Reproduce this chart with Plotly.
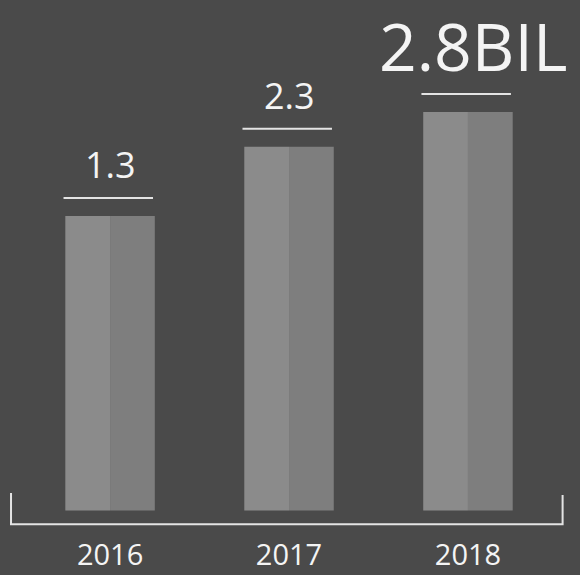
import plotly.graph_objects as go

# Data
years = ["2016", "2017", "2018"]
values = [1.3, 2.3, 2.8]
value_labels = ["1.3", "2.3", "2.8BIL"]

# Styling
BG = "#4a4a4a"
BAR_LIGHT = "#8b8b8b"
BAR_DARK = "#7e7e7e"
LINE = "#e4e4e4"
TEXT = "#f4f4f4"
FONT = "Open Sans"
BAR_BASE = -2.95          # bars rise from a common floor below zero
HALF_W = 0.25             # each bar = two halves of this width

fig = go.Figure()

# Two-tone bars: lighter left half, slightly darker right half
for offset, color in [(-HALF_W, BAR_LIGHT), (0.0, BAR_DARK)]:
    fig.add_trace(go.Bar(
        x=years,
        y=[v - BAR_BASE for v in values],
        base=BAR_BASE,
        width=HALF_W,
        offset=offset,
        marker=dict(color=color, line=dict(width=0)),
        hoverinfo="skip",
        showlegend=False,
    ))

# Value labels with an underline above each bar
for i, (v, lab) in enumerate(zip(values, value_labels)):
    big = i == len(values) - 1
    fig.add_shape(type="line", xref="x", yref="y",
                  x0=i - 0.26, x1=i + 0.24, y0=v + 0.26, y1=v + 0.26,
                  line=dict(color=LINE, width=2))
    fig.add_annotation(x=i + (0.03 if big else 0), y=v + (0.97 if big else 0.74),
                       xref="x", yref="y", text=lab, showarrow=False,
                       xanchor="center", yanchor="middle", borderpad=0,
                       font=dict(family=FONT, size=66 if big else 36, color=TEXT))

# Bracket along the bottom
fig.add_shape(type="path", xref="paper", yref="paper",
              path="M 0.019,0.07 L 0.019,0.011 L 0.970,0.011 L 0.970,0.066",
              line=dict(color=LINE, width=2))

fig.update_layout(
    width=580, height=575,
    margin=dict(l=0, r=0, t=0, b=45),
    paper_bgcolor=BG, plot_bgcolor=BG,
    barmode="overlay",
    xaxis=dict(type="category", range=[-0.615, 2.626], showgrid=False,
               zeroline=False, showline=False, ticks="",
               ticklabelstandoff=5,
               tickfont=dict(family=FONT, size=29, color=TEXT, weight=500),
               fixedrange=True),
    yaxis=dict(range=[-3.231, 4.417], visible=False, showgrid=False,
               zeroline=False, fixedrange=True),
)

fig.write_html("out.html")
